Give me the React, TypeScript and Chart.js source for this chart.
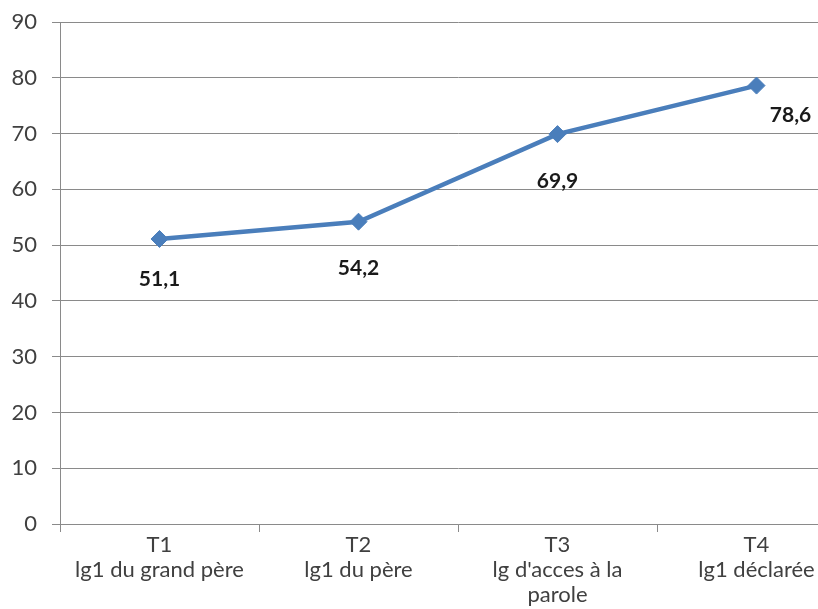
import React, { useEffect, useRef } from "react";
import { Chart, registerables } from "chart.js";

Chart.register(...registerables);

// Categories (period + description, one entry per line of the axis label)
const categories: string[][] = [
  ["T1", "lg1 du grand père"],
  ["T2", "lg1 du père"],
  ["T3", "lg d'acces à la", "parole"],
  ["T4", "lg1 déclarée"],
];

// Series values (%)
const values: number[] = [51.1, 54.2, 69.9, 78.6];

// Y axis range
const yMin = 0;
const yMax = 90;
const yStep = 10;

// Value label placement relative to each point (dx, dy in px)
const labelOffsets: [number, number][] = [
  [0, 40],
  [0, 47],
  [0, 47],
  [34, 30],
];

const LINE_BLUE = "#4a7ebb";
const GRID_GREY = "#8a8a8a";
const TEXT_GREY = "#404040";
const FONT = "Lato, 'Open Sans', sans-serif";

const valueLabels = {
  id: "valueLabels",
  afterDatasetsDraw(chart: Chart) {
    const ctx = chart.ctx;
    const meta = chart.getDatasetMeta(0);
    ctx.save();
    ctx.font = `bold 21px ${FONT}`;
    ctx.fillStyle = "#1a1a1a";
    ctx.textAlign = "center";
    ctx.textBaseline = "middle";
    meta.data.forEach((pt: any, i: number) => {
      const v = values[i];
      const [dx, dy] = labelOffsets[i];
      ctx.fillText(v.toFixed(1).replace(".", ","), pt.x + dx, pt.y + dy);
    });
    ctx.restore();
  },
};

export default function App() {
  const canvasRef = useRef<HTMLCanvasElement | null>(null);

  useEffect(() => {
    const canvas = canvasRef.current;
    if (!canvas) return;
    const chart = new Chart(canvas, {
      type: "line",
      data: {
        labels: categories,
        datasets: [
          {
            data: values,
            borderColor: LINE_BLUE,
            backgroundColor: LINE_BLUE,
            borderWidth: 4.5,
            tension: 0,
            pointStyle: "rectRot",
            pointRadius: 8.5,
            pointBackgroundColor: LINE_BLUE,
            pointBorderColor: LINE_BLUE,
            pointBorderWidth: 1,
          },
        ],
      },
      options: {
        responsive: false,
        animation: false,
        layout: { padding: { left: 0, top: 22, right: 14, bottom: 0 } },
        plugins: {
          legend: { display: false },
          tooltip: { enabled: false },
        },
        scales: {
          x: {
            type: "category",
            offset: true,
            grid: {
              offset: true,
              drawOnChartArea: false,
              drawTicks: true,
              tickLength: 8,
              color: GRID_GREY,
            },
            border: { display: true, color: GRID_GREY, width: 1 },
            ticks: {
              autoSkip: false,
              maxRotation: 0,
              minRotation: 0,
              padding: 0,
              color: TEXT_GREY,
              font: { family: FONT, size: 22, lineHeight: 1.15 },
            },
            afterFit(scale: any) {
              scale.height = 85;
            },
          },
          y: {
            min: yMin,
            max: yMax,
            ticks: {
              stepSize: yStep,
              padding: 15,
              color: TEXT_GREY,
              font: { family: FONT, size: 22 },
            },
            grid: {
              color: GRID_GREY,
              tickLength: 8,
              lineWidth: 1,
            },
            border: { display: true, color: GRID_GREY, width: 1 },
            afterFit(scale: any) {
              scale.width = 60;
              // the outer layout padding already leaves room for the end labels
              scale.paddingTop = 0;
              scale.paddingBottom = 0;
            },
          },
        },
      },
      plugins: [valueLabels],
    });
    return () => chart.destroy();
  }, []);

  return (
    <div
      style={{
        position: "absolute",
        left: 0,
        top: 0,
        width: 818,
        height: 609,
        overflow: "hidden",
        background: "#ffffff",
      }}
    >
      <canvas ref={canvasRef} width={870} height={609} style={{ display: "block" }} />
    </div>
  );
}
